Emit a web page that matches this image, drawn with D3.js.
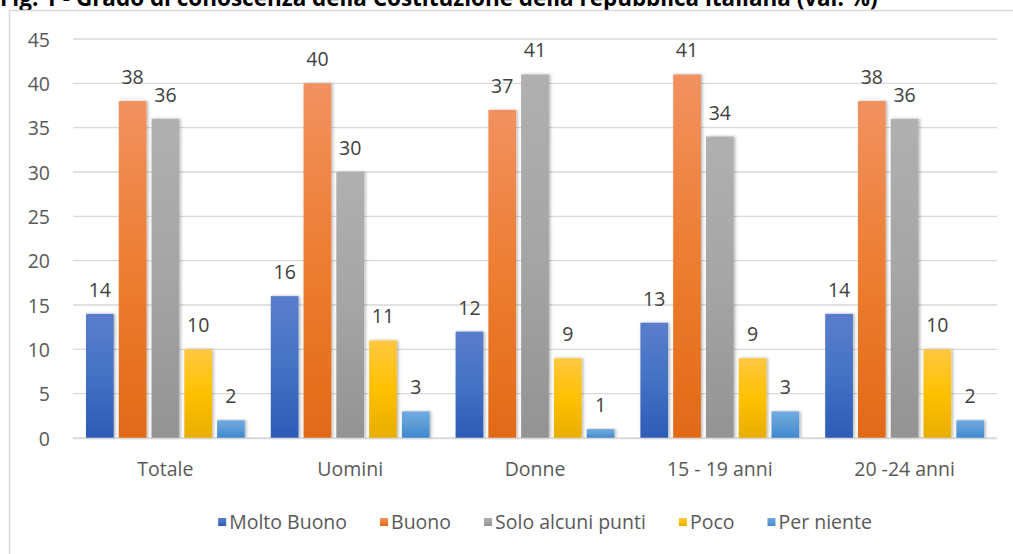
<!DOCTYPE html>
<html><head><meta charset="utf-8">
<script src="https://cdn.jsdelivr.net/npm/d3@7"></script>
<style>body{margin:0;background:#fff;}svg{display:block;}</style>
</head><body>
<svg id="c" width="1013" height="554"></svg>
<script>
const title = "Fig. 1 - Grado di conoscenza della Costituzione della repubblica italiana (val. %)";
const categories = ["Totale", "Uomini", "Donne", "15 - 19 anni", "20 -24 anni"];
const seriesNames = ["Molto Buono", "Buono", "Solo alcuni punti", "Poco", "Per niente"];
const molto = [14, 16, 12, 13, 14];
const buono = [38, 40, 37, 41, 38];
const solo = [36, 30, 41, 34, 36];
const poco = [10, 11, 9, 9, 10];
const perNiente = [2, 3, 1, 3, 2];
const yTicks = [0, 5, 10, 15, 20, 25, 30, 35, 40, 45];
const seriesColors = [
  ["#5A7DCC", "#4472C4", "#2D5BB7"],
  ["#F29160", "#ED7D31", "#E26A18"],
  ["#B0B0B0", "#A5A5A5", "#939393"],
  ["#FFC841", "#FFC000", "#E8AE00"],
  ["#72AAE0", "#5B9BD5", "#3F88CF"]
];
const values = [molto, buono, solo, poco, perNiente];

const svg = d3.select("#c");
const font = "'Open Sans', Lato, sans-serif";
const fs = 19.5;
const textColor = "#595959";

// title (partially cut off at top)
const t = svg.append("text").attr("x", 0).attr("y", 6)
  .attr("font-family", "'Open Sans', sans-serif").attr("font-weight", "bold")
  .attr("font-size", 18).attr("fill", "#000").text(title);
const tw = t.node().getComputedTextLength();
t.attr("font-size", 18 * 878 / tw);

// chart frame
svg.append("rect").attr("x", 9.5).attr("y", 10.5).attr("width", 1010).attr("height", 560)
  .attr("fill", "#fff").attr("stroke", "#d9d9d9").attr("stroke-width", 1.5);

const defs = svg.append("defs");
seriesColors.forEach((c, i) => {
  const g = defs.append("linearGradient").attr("id", "g" + i).attr("x1", 0).attr("y1", 0).attr("x2", 0).attr("y2", 1);
  g.append("stop").attr("offset", "0%").attr("stop-color", c[0]);
  g.append("stop").attr("offset", "50%").attr("stop-color", c[1]);
  g.append("stop").attr("offset", "100%").attr("stop-color", c[2]);
});
const f = defs.append("filter").attr("id", "sh").attr("x", "-30%").attr("y", "-10%").attr("width", "160%").attr("height", "120%");
f.append("feDropShadow").attr("dx", 1.5).attr("dy", 0).attr("stdDeviation", 1.8)
  .attr("flood-color", "#000").attr("flood-opacity", 0.3);

const pLeft = 73, pRight = 997, pTop = 39, pBottom = 438;
const y = d3.scaleLinear().domain([0, 45]).range([pBottom, pTop]);
const x0 = d3.scaleBand().domain(categories).range([pLeft, pRight]).padding(0);
const x1 = d3.scaleBand().domain(d3.range(5)).range([13, x0.bandwidth() - 13]).paddingInner(0.155).paddingOuter(0);

// gridlines
svg.append("g").selectAll("line").data(yTicks).join("line")
  .attr("x1", pLeft).attr("x2", pRight).attr("y1", d => y(d)).attr("y2", d => y(d))
  .attr("stroke", "#d9d9d9").attr("stroke-width", 1.3);

// y axis labels
const yAxis = d3.axisLeft(y).tickValues(yTicks).tickSize(0).tickPadding(0);
const ya = svg.append("g").attr("transform", `translate(${pLeft - 23},0)`).call(yAxis);
ya.select(".domain").remove();
ya.selectAll("text").attr("font-family", font).attr("font-size", fs).attr("fill", textColor).attr("dy", "0.36em");

// bars
const groups = svg.append("g").selectAll("g").data(categories).join("g")
  .attr("transform", d => `translate(${x0(d)},0)`);
groups.each(function(cat, ci) {
  const g = d3.select(this);
  values.forEach((arr, si) => {
    const v = arr[ci];
    g.append("rect").attr("x", x1(si)).attr("width", x1.bandwidth())
      .attr("y", y(v)).attr("height", y(0) - y(v))
      .attr("fill", `url(#g${si})`).attr("filter", "url(#sh)");
    g.append("text").attr("x", x1(si) + x1.bandwidth() / 2).attr("y", y(v) - 17)
      .attr("text-anchor", "middle").attr("font-family", font).attr("font-size", fs)
      .attr("fill", "#404040").text(v);
  });
});

// x axis line
svg.append("line").attr("x1", pLeft).attr("x2", pRight).attr("y1", y(0) + 0.5).attr("y2", y(0) + 0.5)
  .attr("stroke", "#d9d9d9").attr("stroke-width", 1.5);

// x axis labels
const xAxis = d3.axisBottom(x0).tickSize(0).tickPadding(0);
const xa = svg.append("g").attr("transform", `translate(0,${pBottom})`).call(xAxis);
xa.select(".domain").remove();
xa.selectAll("text").attr("font-family", font).attr("font-size", fs).attr("fill", textColor)
  .attr("y", 38).attr("dy", 0);

// legend (laid out from measured text widths, centred)
const lg = svg.append("g").attr("transform", "translate(0,522)");
const items = lg.selectAll("g").data(seriesNames).join("g");
items.append("rect").attr("x", 0).attr("y", -4).attr("width", 8).attr("height", 8)
  .attr("fill", (d, i) => `url(#g${i})`);
items.append("text").attr("x", 11).attr("y", 0).attr("dy", "0.36em")
  .attr("font-family", font).attr("font-size", fs).attr("fill", textColor).text(d => d);
let cx = 0;
const offs = [];
items.each(function() {
  offs.push(cx);
  cx += 11 + d3.select(this).select("text").node().getComputedTextLength() + 33;
});
const total = cx - 33;
const startX = 545 - total / 2;
items.attr("transform", (d, i) => `translate(${startX + offs[i]},0)`);
</script>
</body></html>
